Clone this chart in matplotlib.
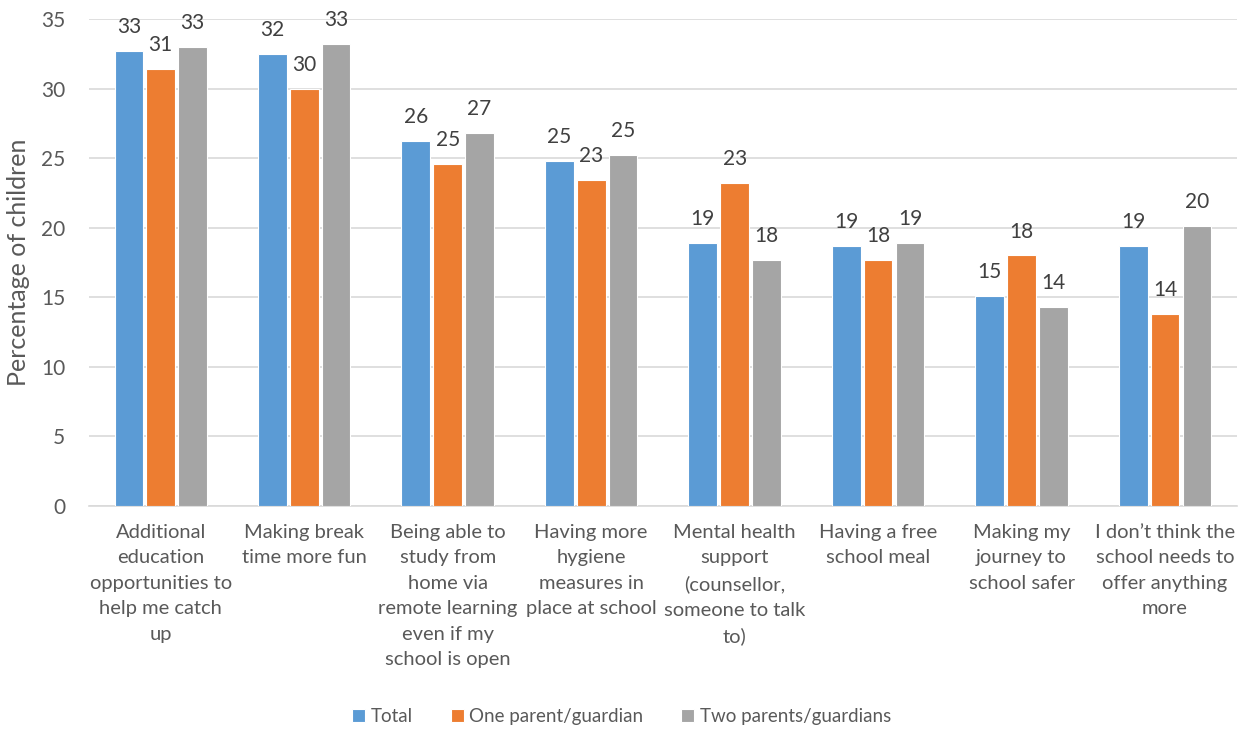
import numpy as np
import matplotlib
matplotlib.use("Agg")
import matplotlib.pyplot as plt

plt.rcParams["font.family"] = ["Lato", "DejaVu Sans"]

# Categories (wrapped as in the original chart)
categories = [
    "Additional\neducation\nopportunities to\nhelp me catch\nup",
    "Making break\ntime more fun",
    "Being able to\nstudy from\nhome via\nremote learning\neven if my\nschool is open",
    "Having more\nhygiene\nmeasures in\nplace at school",
    "Mental health\nsupport\n(counsellor,\nsomeone to talk\nto)",
    "Having a free\nschool meal",
    "Making my\njourney to\nschool safer",
    "I don\u2019t think the\nschool needs to\noffer anything\nmore",
]

total = [32.7, 32.5, 26.2, 24.8, 18.9, 18.7, 15.1, 18.7]
one_parent = [31.4, 30.0, 24.6, 23.4, 23.2, 17.7, 18.0, 13.8]
two_parents = [33.0, 33.2, 26.8, 25.2, 17.7, 18.9, 14.3, 20.1]

series = [
    ("Total", total, "#5B9BD5"),
    ("One parent/guardian", one_parent, "#ED7D31"),
    ("Two parents/guardians", two_parents, "#A5A5A5"),
]

fig = plt.figure(figsize=(12.43, 7.29), dpi=100)
ax = fig.add_axes([0.0716, 0.306, 0.9234, 0.668])

x = np.arange(len(categories))
width = 0.2
step = 0.222

for i, (name, vals, color) in enumerate(series):
    pos = x + (i - 1) * step
    bars = ax.bar(pos, vals, width, color=color, label=name,
                  edgecolor="white", linewidth=0.8, zorder=3)
    for b, v in zip(bars, vals):
        ax.text(b.get_x() + b.get_width() / 2, v + 1.0, f"{v:.0f}",
                ha="center", va="bottom", fontsize=15, color="#404040")

ax.set_xlim(-0.5, len(categories) - 0.5)
ax.set_ylim(0, 35)
ax.set_yticks(range(0, 36, 5))
ax.set_xticks(x)
ax.set_xticklabels(categories, fontsize=14.5, color="#595959", linespacing=1.6)
ax.tick_params(axis="y", labelsize=15, labelcolor="#595959", length=0, pad=17)
ax.tick_params(axis="x", length=0, pad=13)

ax.grid(axis="y", color="#D9D9D9", linewidth=1.2, zorder=0)
for s in ["top", "right", "left"]:
    ax.spines[s].set_visible(False)
ax.spines["bottom"].set_color("#D9D9D9")
ax.spines["bottom"].set_linewidth(1.2)

ax.set_ylabel("Percentage of children", fontsize=18, color="#595959", labelpad=8)

fig.legend(loc="lower center", bbox_to_anchor=(0.5, -0.018), ncol=3, frameon=False,
           fontsize=13.5, handlelength=0.7, handleheight=0.7, handletextpad=0.3,
           columnspacing=2.0, labelcolor="#595959")

fig.savefig("out.png", dpi=100)
